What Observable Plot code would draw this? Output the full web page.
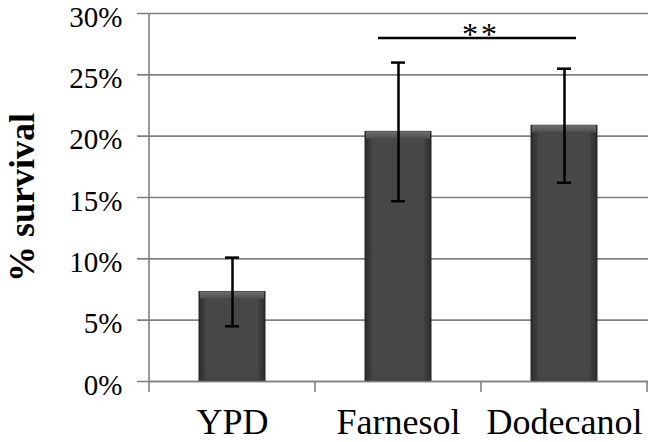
<!DOCTYPE html>
<html>
<head>
<meta charset="utf-8">
<script src="https://cdn.jsdelivr.net/npm/d3@7"></script>
<script src="https://cdn.jsdelivr.net/npm/@observablehq/plot@0.6"></script>
<style>
  html, body { margin: 0; padding: 0; background: #fff; }
  svg { display: block; }
</style>
</head>
<body>
<div id="chart"></div>
<script>
// ---- data ----
const categories = ["YPD", "Farnesol", "Dodecanol"];
const survival   = [7.3, 20.35, 20.85];
const errLow     = [4.5, 14.7, 16.2];
const errHigh    = [10.1, 26.0, 25.5];
const yTicks     = [0, 5, 10, 15, 20, 25, 30];
const sigPairs   = [{a: "Farnesol", b: "Dodecanol", y: 28.0, label: "**"}];
const yLabel     = "% survival";

const data = categories.map((c, i) => ({cat: c, v: survival[i], lo: errLow[i], hi: errHigh[i]}));
const FONT = "Liberation Serif, Times New Roman, serif";
const NS = "http://www.w3.org/2000/svg";

// defs for bar gradient
function defsMark() {
  const g = document.createElementNS(NS, "g");
  g.innerHTML = `<defs>
    <linearGradient id="barGrad" x1="0" x2="1" y1="0" y2="0">
      <stop offset="0" stop-color="#2c2c2c"/>
      <stop offset="0.12" stop-color="#454545"/>
      <stop offset="0.88" stop-color="#454545"/>
      <stop offset="1" stop-color="#2c2c2c"/>
    </linearGradient>
    <linearGradient id="topGrad" x1="0" x2="0" y1="0" y2="1">
      <stop offset="0" stop-color="#707070"/>
      <stop offset="1" stop-color="#4c4c4c"/>
    </linearGradient>
  </defs>`;
  return g;
}

// axis line, category separators and significance labels using the library scales
function decorMark(index, scales) {
  const g = document.createElementNS(NS, "g");
  const x = scales.x, y = scales.y;
  const bw = x.bandwidth ? x.bandwidth() : 0;
  const y0 = y(0), yTop = y(yTicks[yTicks.length - 1]);
  const x0 = x(categories[0]);
  const line = (x1, y1, x2, y2) => {
    const l = document.createElementNS(NS, "line");
    l.setAttribute("x1", x1); l.setAttribute("y1", y1);
    l.setAttribute("x2", x2); l.setAttribute("y2", y2);
    l.setAttribute("stroke", "#808080"); l.setAttribute("stroke-width", 1.6);
    g.appendChild(l);
  };
  line(x0, yTop, x0, y0 + 11);
  for (const c of categories) line(x(c) + bw, y0, x(c) + bw, y0 + 11);
  for (const s of sigPairs) {
    const t = document.createElementNS(NS, "text");
    t.setAttribute("x", (x(s.a) + x(s.b)) / 2 + bw / 2);
    t.setAttribute("y", y(s.y) + 7);
    t.setAttribute("text-anchor", "middle");
    t.setAttribute("font-family", FONT);
    t.setAttribute("font-size", 32);
    t.setAttribute("letter-spacing", 3);
    t.setAttribute("fill", "#000");
    t.textContent = s.label;
    g.appendChild(t);
  }
  return g;
}

const chart = Plot.plot({
  width: 650,
  height: 442,
  marginLeft: 148,
  marginRight: 2,
  marginTop: 13,
  marginBottom: 61,
  style: {fontFamily: FONT, background: "#fff", overflow: "visible"},
  x: {domain: categories, padding: 0, label: null},
  y: {domain: [0, 30], label: null},
  marks: [
    defsMark,
    Plot.gridY(yTicks, {stroke: "#808080", strokeOpacity: 1, strokeWidth: 1.6, insetLeft: -11}),
    Plot.axisY(yTicks, {tickSize: 0, tickPadding: 26, dy: 4, tickFormat: d => d + "%", fontSize: 29, fill: "#000", label: null}),
    Plot.axisX({tickSize: 0, tickPadding: 27, fontSize: 36, fill: "#000", label: null}),
    Plot.text([yLabel], {frameAnchor: "left", textAnchor: "middle", rotate: -90, dx: -126, fontSize: 36, fontWeight: "bold", fill: "#000"}),
    Plot.barY(data, {x: "cat", y: "v", insetLeft: 50, insetRight: 50, fill: "url(#barGrad)", stroke: "#262626", strokeWidth: 1}),
    Plot.barY(data, {x: "cat", y1: d => d.v - 0.6, y2: "v", insetLeft: 51, insetRight: 51, fill: "url(#topGrad)"}),
    Plot.barY(data, {x: "cat", y1: 0.5, y2: d => d.v - 0.6, insetLeft: 57, insetRight: 57, fill: "#474747"}),
    Plot.ruleY([0], {stroke: "#808080", strokeWidth: 1.6}),
    decorMark,
    Plot.ruleX(data, {x: "cat", y1: "lo", y2: "hi", stroke: "#000", strokeWidth: 2.5}),
    Plot.tickY(data, {x: "cat", y: "hi", stroke: "#000", strokeWidth: 2.5, insetLeft: 76, insetRight: 76}),
    Plot.tickY(data, {x: "cat", y: "lo", stroke: "#000", strokeWidth: 2.5, insetLeft: 76, insetRight: 76}),
    Plot.ruleY(sigPairs, {y: "y", x1: "a", x2: "b", stroke: "#000", strokeWidth: 2.5, insetLeft: 63, insetRight: 71})
  ]
});
document.getElementById("chart").appendChild(chart);
</script>
</body>
</html>
